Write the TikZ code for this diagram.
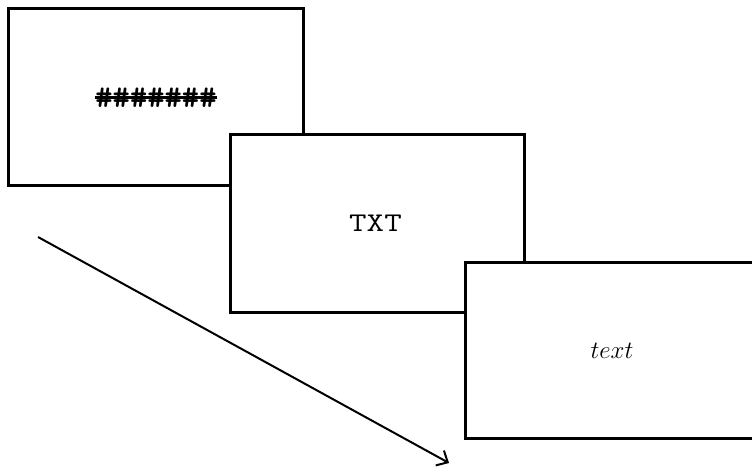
\documentclass[tikz,border=0pt]{standalone}
\usetikzlibrary{arrows.meta}
\newcommand{\widemono}[2]{\scalebox{#1}[1]{#2}}
\begin{document}
\begin{tikzpicture}[x=1pt,y=-1pt,
  screen/.style={draw=black, line width=2.2pt, fill=white, outer sep=0pt, anchor=north west},
  mono/.style={font=\ttfamily\fontsize{27}{30}\selectfont, inner sep=0pt},
  flow/.style={draw=black, line width=2pt, -{Straight Barb[length=9pt,width=17pt,line width=2pt]}}]
  \useasboundingbox (0,0) rectangle (752,466);
  \begin{scope}
    \clip (0,0) rectangle (752,466);
    % three stacked screens
    \node[screen, minimum width=295pt, minimum height=177pt] (s1) at (8.5,8.5) {};
    \node[screen, minimum width=294pt, minimum height=178pt] (s2) at (230.5,134.5) {};
    \node[screen, minimum width=300pt, minimum height=176pt] (s3) at (465.5,262.5) {};
  \end{scope}
  % contents of each screen
  \node[mono, font=\ttfamily\bfseries\fontsize{32}{34}\selectfont] (mask) at (156,98) {\widemono{1.03}{\#\#\#\#\#\#\#}};
  \draw[line width=2.4pt] (mask.west |- 0,97.5) -- (mask.east |- 0,97.5);
  \node[mono] (t2) at (375.5,223) {\widemono{1.26}{TXT}};
  \node[font=\fontsize{26}{30}\selectfont, inner sep=0pt] (t3) at (612,351) {$text$};
  % time arrow
  \coordinate (a0) at (38,237);
  \coordinate (a1) at (449,463);
  \draw[flow] (a0) -- (a1);
\end{tikzpicture}
\end{document}
